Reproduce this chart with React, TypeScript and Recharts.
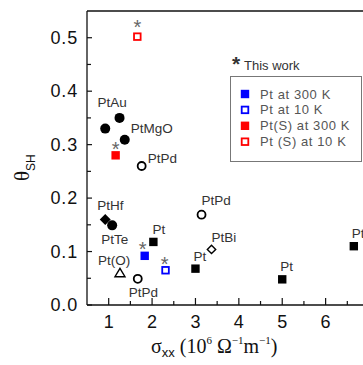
import { ScatterChart, Scatter, XAxis, YAxis, ReferenceLine } from "recharts";

// Pt, other works (filled black squares)
const ptX = [2.03, 3.0, 5.0, 6.65];
const ptY = [0.118, 0.068, 0.048, 0.11];
const ptLabels = ["Pt", "Pt", "Pt", "Pt"];

// alloys, filled circles
const alloyX = [0.92, 1.25, 1.37, 1.08];
const alloyY = [0.33, 0.35, 0.309, 0.149];
const alloyLabels = ["", "PtAu", "PtMgO", "PtTe"];

const ptHfX = [0.92];
const ptHfY = [0.16];
const ptHfLabels = ["PtHf"];

const ptPdX = [1.76, 3.14, 1.67];
const ptPdY = [0.26, 0.169, 0.049];
const ptPdLabels = ["PtPd", "PtPd", "PtPd"];

const ptBiX = [3.37];
const ptBiY = [0.104];
const ptBiLabels = ["PtBi"];

const ptOX = [1.26];
const ptOY = [0.06];
const ptOLabels = ["Pt(O)"];

// this work
const pt300X = [1.83];
const pt300Y = [0.092];
const pt10X = [2.31];
const pt10Y = [0.065];
const ptS300X = [1.16];
const ptS300Y = [0.28];
const ptS10X = [1.66];
const ptS10Y = [0.502];

const xTicks = [1, 1.5, 2, 2.5, 3, 3.5, 4, 4.5, 5, 5.5, 6, 6.5];
const yTicks = [0, 0.05, 0.1, 0.15, 0.2, 0.25, 0.3, 0.35, 0.4, 0.45, 0.5];

const legendLabels = ["Pt at 300 K", "Pt at 10 K", "Pt(S) at 300 K", "Pt (S) at 10 K"];

const BLUE = "#0000ff";
const RED = "#ff0000";
const SANS = "'Liberation Sans', Arial, sans-serif";
const SERIF = "'Liberation Serif', 'Times New Roman', serif";

// label offsets (start x, centre y) relative to the point
const LABEL_POS: Record<string, [number, number]> = {
  pt0: [-1, -12],
  pt1: [-2, -12],
  pt2: [-2, -13],
  pt3: [-2, -13],
  alloy1: [-22, -15],
  alloy2: [6, -11],
  alloy3: [-11, 14.5],
  hf0: [-8, -14],
  pd0: [6, -8],
  pd1: [0, -14],
  pd2: [-9, 14],
  bi0: [0, -12],
  o0: [-22, -12],
};

type Pt = { x: number; y: number; label: string; id: string };

const toPoints = (xs: number[], ys: number[], labels: string[] | null, key: string): Pt[] =>
  xs.map((x, i) => ({ x, y: ys[i], label: labels ? labels[i] : "", id: key + i }));

type Kind = "fcircle" | "ocircle" | "fsquare" | "osquare" | "fdiamond" | "odiamond" | "otriangle";

const drawMark = (kind: Kind, cx: number, cy: number, color: string) => {
  switch (kind) {
    case "fcircle":
      return <circle cx={cx} cy={cy} r={5} fill={color} />;
    case "ocircle":
      return <circle cx={cx} cy={cy} r={4} fill="#fff" stroke={color} strokeWidth={1.8} />;
    case "fsquare":
      return <rect x={cx - 4.2} y={cy - 4.2} width={8.4} height={8.4} fill={color} />;
    case "osquare":
      return <rect x={cx - 3.3} y={cy - 3.3} width={6.6} height={6.6} fill="#fff" stroke={color} strokeWidth={1.8} />;
    case "fdiamond":
      return <polygon points={`${cx},${cy - 5.5} ${cx + 5.5},${cy} ${cx},${cy + 5.5} ${cx - 5.5},${cy}`} fill={color} />;
    case "odiamond":
      return <polygon points={`${cx},${cy - 4.2} ${cx + 4.2},${cy} ${cx},${cy + 4.2} ${cx - 4.2},${cy}`} fill="#fff" stroke={color} strokeWidth={1.4} />;
    case "otriangle":
      return <polygon points={`${cx},${cy - 4.5} ${cx + 5},${cy + 3.8} ${cx - 5},${cy + 3.8}`} fill="#fff" stroke={color} strokeWidth={1.4} />;
  }
};

const marker = (kind: Kind, color: string, star?: [number, number]) => (props: any) => {
  const { cx, cy, payload } = props;
  if (cx == null || cy == null) return <g />;
  const pos = LABEL_POS[payload.id];
  return (
    <g>
      {drawMark(kind, cx, cy, color)}
      {payload.label && pos && (
        <text x={cx + pos[0]} y={cy + pos[1]} dominantBaseline="central" fontFamily={SANS} fontSize={13.5} fill="#333">
          {payload.label}
        </text>
      )}
      {star && (
        <text x={cx + star[0]} y={cy + star[1] + 11.5} textAnchor="middle" fontFamily={SANS} fontSize={20} fill="#666">
          *
        </text>
      )}
    </g>
  );
};

const XTick = (props: any) => {
  const { x, y, payload } = props;
  const v = payload.value;
  const major = Math.abs(v - Math.round(v)) < 1e-6;
  return (
    <g>
      <line x1={x} x2={x} y1={y} y2={y - (major ? 7 : 4)} stroke="#111" strokeWidth={1.2} />
      {major && (
        <text x={x} y={y + 16.5} textAnchor="middle" dominantBaseline="central" fontFamily={SANS} fontSize={18} fill="#111">
          {v}
        </text>
      )}
    </g>
  );
};

const YTick = (props: any) => {
  const { x, y, payload } = props;
  const v = payload.value;
  const major = Math.abs(v * 10 - Math.round(v * 10)) < 1e-6;
  return (
    <g>
      <line x1={x} x2={x + (major ? 5 : 4)} y1={y} y2={y} stroke="#111" strokeWidth={1.2} />
      {major && (
        <text x={x - 9} y={y} textAnchor="end" dominantBaseline="central" fontFamily={SANS} fontSize={18} letterSpacing={0.8} fill="#111">
          {v.toFixed(1)}
        </text>
      )}
    </g>
  );
};

const legendKinds: Kind[] = ["fsquare", "osquare", "fsquare", "osquare"];
const legendColors = [BLUE, BLUE, RED, RED];

export default function App() {
  return (
    <div style={{ position: "fixed", left: 0, top: 0, width: 363, height: 365, overflow: "hidden", background: "#fff" }}>
      <ScatterChart width={380} height={365} margin={{ top: 11, right: 11, bottom: 0, left: 0 }}>
        <XAxis
          type="number"
          dataKey="x"
          domain={[0.5, 7]}
          ticks={xTicks}
          interval={0}
          tickSize={0}
          tickMargin={0}
          tick={<XTick />}
          height={60}
          axisLine={{ stroke: "#111", strokeWidth: 1.3 }}
          allowDataOverflow
        />
        <YAxis
          type="number"
          dataKey="y"
          domain={[0, 0.55]}
          ticks={yTicks}
          interval={0}
          tickSize={0}
          tickMargin={0}
          tick={<YTick />}
          width={87}
          axisLine={{ stroke: "#111", strokeWidth: 1.3 }}
          allowDataOverflow
        />
        <ReferenceLine y={0.55} stroke="#111" strokeWidth={1.3} />
        <Scatter data={toPoints(ptHfX, ptHfY, ptHfLabels, "hf")} shape={marker("fdiamond", "#000")} isAnimationActive={false} />
        <Scatter data={toPoints(alloyX, alloyY, alloyLabels, "alloy")} shape={marker("fcircle", "#000")} isAnimationActive={false} />
        <Scatter data={toPoints(ptPdX, ptPdY, ptPdLabels, "pd")} shape={marker("ocircle", "#000")} isAnimationActive={false} />
        <Scatter data={toPoints(ptBiX, ptBiY, ptBiLabels, "bi")} shape={marker("odiamond", "#000")} isAnimationActive={false} />
        <Scatter data={toPoints(ptOX, ptOY, ptOLabels, "o")} shape={marker("otriangle", "#000")} isAnimationActive={false} />
        <Scatter data={toPoints(ptX, ptY, ptLabels, "pt")} shape={marker("fsquare", "#000")} isAnimationActive={false} />
        <Scatter data={toPoints(pt300X, pt300Y, null, "p300")} shape={marker("fsquare", BLUE, [-2, -11])} isAnimationActive={false} />
        <Scatter data={toPoints(pt10X, pt10Y, null, "p10")} shape={marker("osquare", BLUE, [-1, -11])} isAnimationActive={false} />
        <Scatter data={toPoints(ptS300X, ptS300Y, null, "s300")} shape={marker("fsquare", RED, [0, -11])} isAnimationActive={false} />
        <Scatter data={toPoints(ptS10X, ptS10Y, null, "s10")} shape={marker("osquare", RED, [0, -14])} isAnimationActive={false} />
      </ScatterChart>

      <svg width={363} height={365} style={{ position: "absolute", left: 0, top: 0, pointerEvents: "none" }}>
        {/* y axis title */}
        <text transform="translate(29,181) rotate(-90)" fill="#111">
          <tspan fontFamily={SERIF} fontSize={21}>θ</tspan>
          <tspan fontFamily={SANS} fontSize={12} dy={6}>SH</tspan>
        </text>
        {/* x axis title */}
        <text x={151} y={353} fill="#111" fontFamily={SERIF} fontSize={20}>
          <tspan>σ</tspan>
          <tspan fontFamily={SANS} fontSize={13} dy={4}>xx</tspan>
          <tspan dy={-4}> (10</tspan>
          <tspan fontSize={11} dy={-9}>6</tspan>
          <tspan dy={9}> Ω</tspan>
          <tspan fontSize={11} dy={-9}>−1</tspan>
          <tspan dy={9}>m</tspan>
          <tspan fontSize={11} dy={-9}>−1</tspan>
          <tspan dy={9}>)</tspan>
        </text>
        {/* legend */}
        <text x={236} y={71} textAnchor="middle" fontFamily={SANS} fontSize={21} fontWeight="bold" fill="#333">*</text>
        <text x={244} y={65} dominantBaseline="central" fontFamily={SANS} fontSize={13} fill="#333">This work</text>
        <rect x={230.5} y={76.5} width={131} height={85} fill="#fff" stroke="#777" strokeWidth={1} />
        {legendLabels.map((label, i) => {
          const cy = 94 + i * 15.9;
          return (
            <g key={label}>
              {drawMark(legendKinds[i], 245, cy, legendColors[i])}
              <text x={260} y={cy} dominantBaseline="central" fontFamily={SANS} fontSize={13} letterSpacing={0.6} fill="#555">
                {label}
              </text>
            </g>
          );
        })}
      </svg>
    </div>
  );
}
